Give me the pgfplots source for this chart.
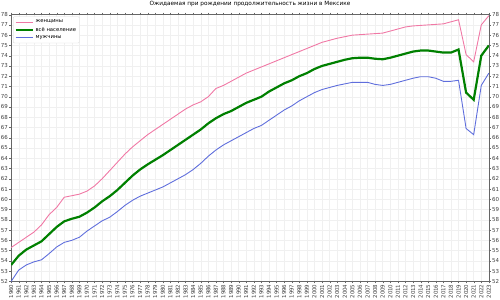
\documentclass[border=0pt]{standalone}
\usepackage{fontspec}
\setmainfont{DejaVu Sans}
\usepackage{pgfplots}
\pgfplotsset{compat=1.18}
\usepackage{pgfplotstable}
\definecolor{fem}{RGB}{240,120,165}
\definecolor{tot}{RGB}{0,128,0}
\definecolor{mal}{RGB}{95,110,220}
\pgfplotstableread{
year f t m
1960 55.3 53.6 52.0
1961 55.8 54.5 53.1
1962 56.3 55.1 53.6
1963 56.8 55.5 53.9
1964 57.5 55.9 54.1
1965 58.5 56.6 54.7
1966 59.2 57.3 55.35
1967 60.2 57.85 55.8
1968 60.35 58.1 56.0
1969 60.5 58.3 56.3
1970 60.8 58.7 56.9
1971 61.3 59.2 57.4
1972 62.0 59.8 57.9
1973 62.8 60.3 58.25
1974 63.6 60.9 58.8
1975 64.4 61.6 59.4
1976 65.1 62.3 59.9
1977 65.7 62.9 60.3
1978 66.3 63.4 60.6
1979 66.8 63.85 60.9
1980 67.3 64.3 61.2
1981 67.8 64.8 61.6
1982 68.3 65.3 62.0
1983 68.8 65.8 62.4
1984 69.2 66.3 62.9
1985 69.5 66.8 63.5
1986 70.0 67.4 64.2
1987 70.8 67.9 64.8
1988 71.1 68.3 65.3
1989 71.5 68.6 65.7
1990 71.9 69.0 66.1
1991 72.3 69.4 66.5
1992 72.6 69.7 66.9
1993 72.9 70.0 67.2
1994 73.2 70.5 67.7
1995 73.5 70.9 68.2
1996 73.8 71.3 68.7
1997 74.1 71.6 69.1
1998 74.4 72.0 69.6
1999 74.7 72.3 70.0
2000 75.0 72.7 70.4
2001 75.3 73.0 70.7
2002 75.5 73.2 70.9
2003 75.7 73.4 71.1
2004 75.85 73.6 71.25
2005 76.0 73.75 71.4
2006 76.05 73.8 71.4
2007 76.1 73.8 71.4
2008 76.15 73.7 71.2
2009 76.2 73.65 71.1
2010 76.4 73.8 71.2
2011 76.6 74.0 71.4
2012 76.8 74.2 71.6
2013 76.9 74.4 71.8
2014 76.95 74.5 71.95
2015 77.0 74.5 71.95
2016 77.05 74.4 71.8
2017 77.1 74.3 71.5
2018 77.3 74.3 71.5
2019 77.5 74.6 71.6
2020 74.1 70.4 66.9
2021 73.4 69.7 66.3
2022 77.0 74.0 71.1
2023 77.9 75.0 72.3
}\data
\begin{document}
\begin{tikzpicture}
\pgfplotsset{
  base/.style={
    scale only axis, width=480pt, height=268pt,
    xmin=1960, xmax=2023, ymin=52, ymax=78,
    ytick distance=1,
    tick align=outside, major tick length=2pt,
    tick label style={font=\fontsize{5.5}{6}\selectfont, text=black!75},
    /pgf/number format/assume math mode=true,
    /pgf/number format/1000 sep={},
    axis line style={black!60},
    tick style={black!60},
  }
}
\begin{axis}[base,
  xtick distance=1,
  xticklabel style={rotate=90, anchor=east, inner sep=1pt},
  yticklabel style={inner sep=1pt},
  ytick pos=left,
  grid=major, major grid style={black!6, line width=0.4pt},
  legend style={at={(0.004,0.993)}, anchor=north west, font=\fontsize{5.3}{6}\selectfont,
    draw=black!15, rounded corners=1pt, inner sep=1.2pt, row sep=-1.2pt},
  legend cell align=left,
  title={Ожидаемая при рождении продолжительность жизни в Мексике},
  title style={font=\fontsize{5.8}{6}\selectfont, at={(0.5,1)}, anchor=south, inner sep=1.5pt},
]
\addplot[fem, line width=0.9pt, no marks] table[x=year, y=f] {\data};
\addlegendentry{женщины}
\addplot[tot, line width=2.2pt, no marks] table[x=year, y=t] {\data};
\addlegendentry{всё население}
\addplot[mal, line width=0.9pt, no marks] table[x=year, y=m] {\data};
\addlegendentry{мужчины}
\end{axis}
\begin{axis}[base,
  axis y line*=right, axis x line=none,
  yticklabel style={inner sep=1pt},
]
\addplot[draw=none] coordinates {(1960,60)};
\end{axis}
\end{tikzpicture}
\end{document}
